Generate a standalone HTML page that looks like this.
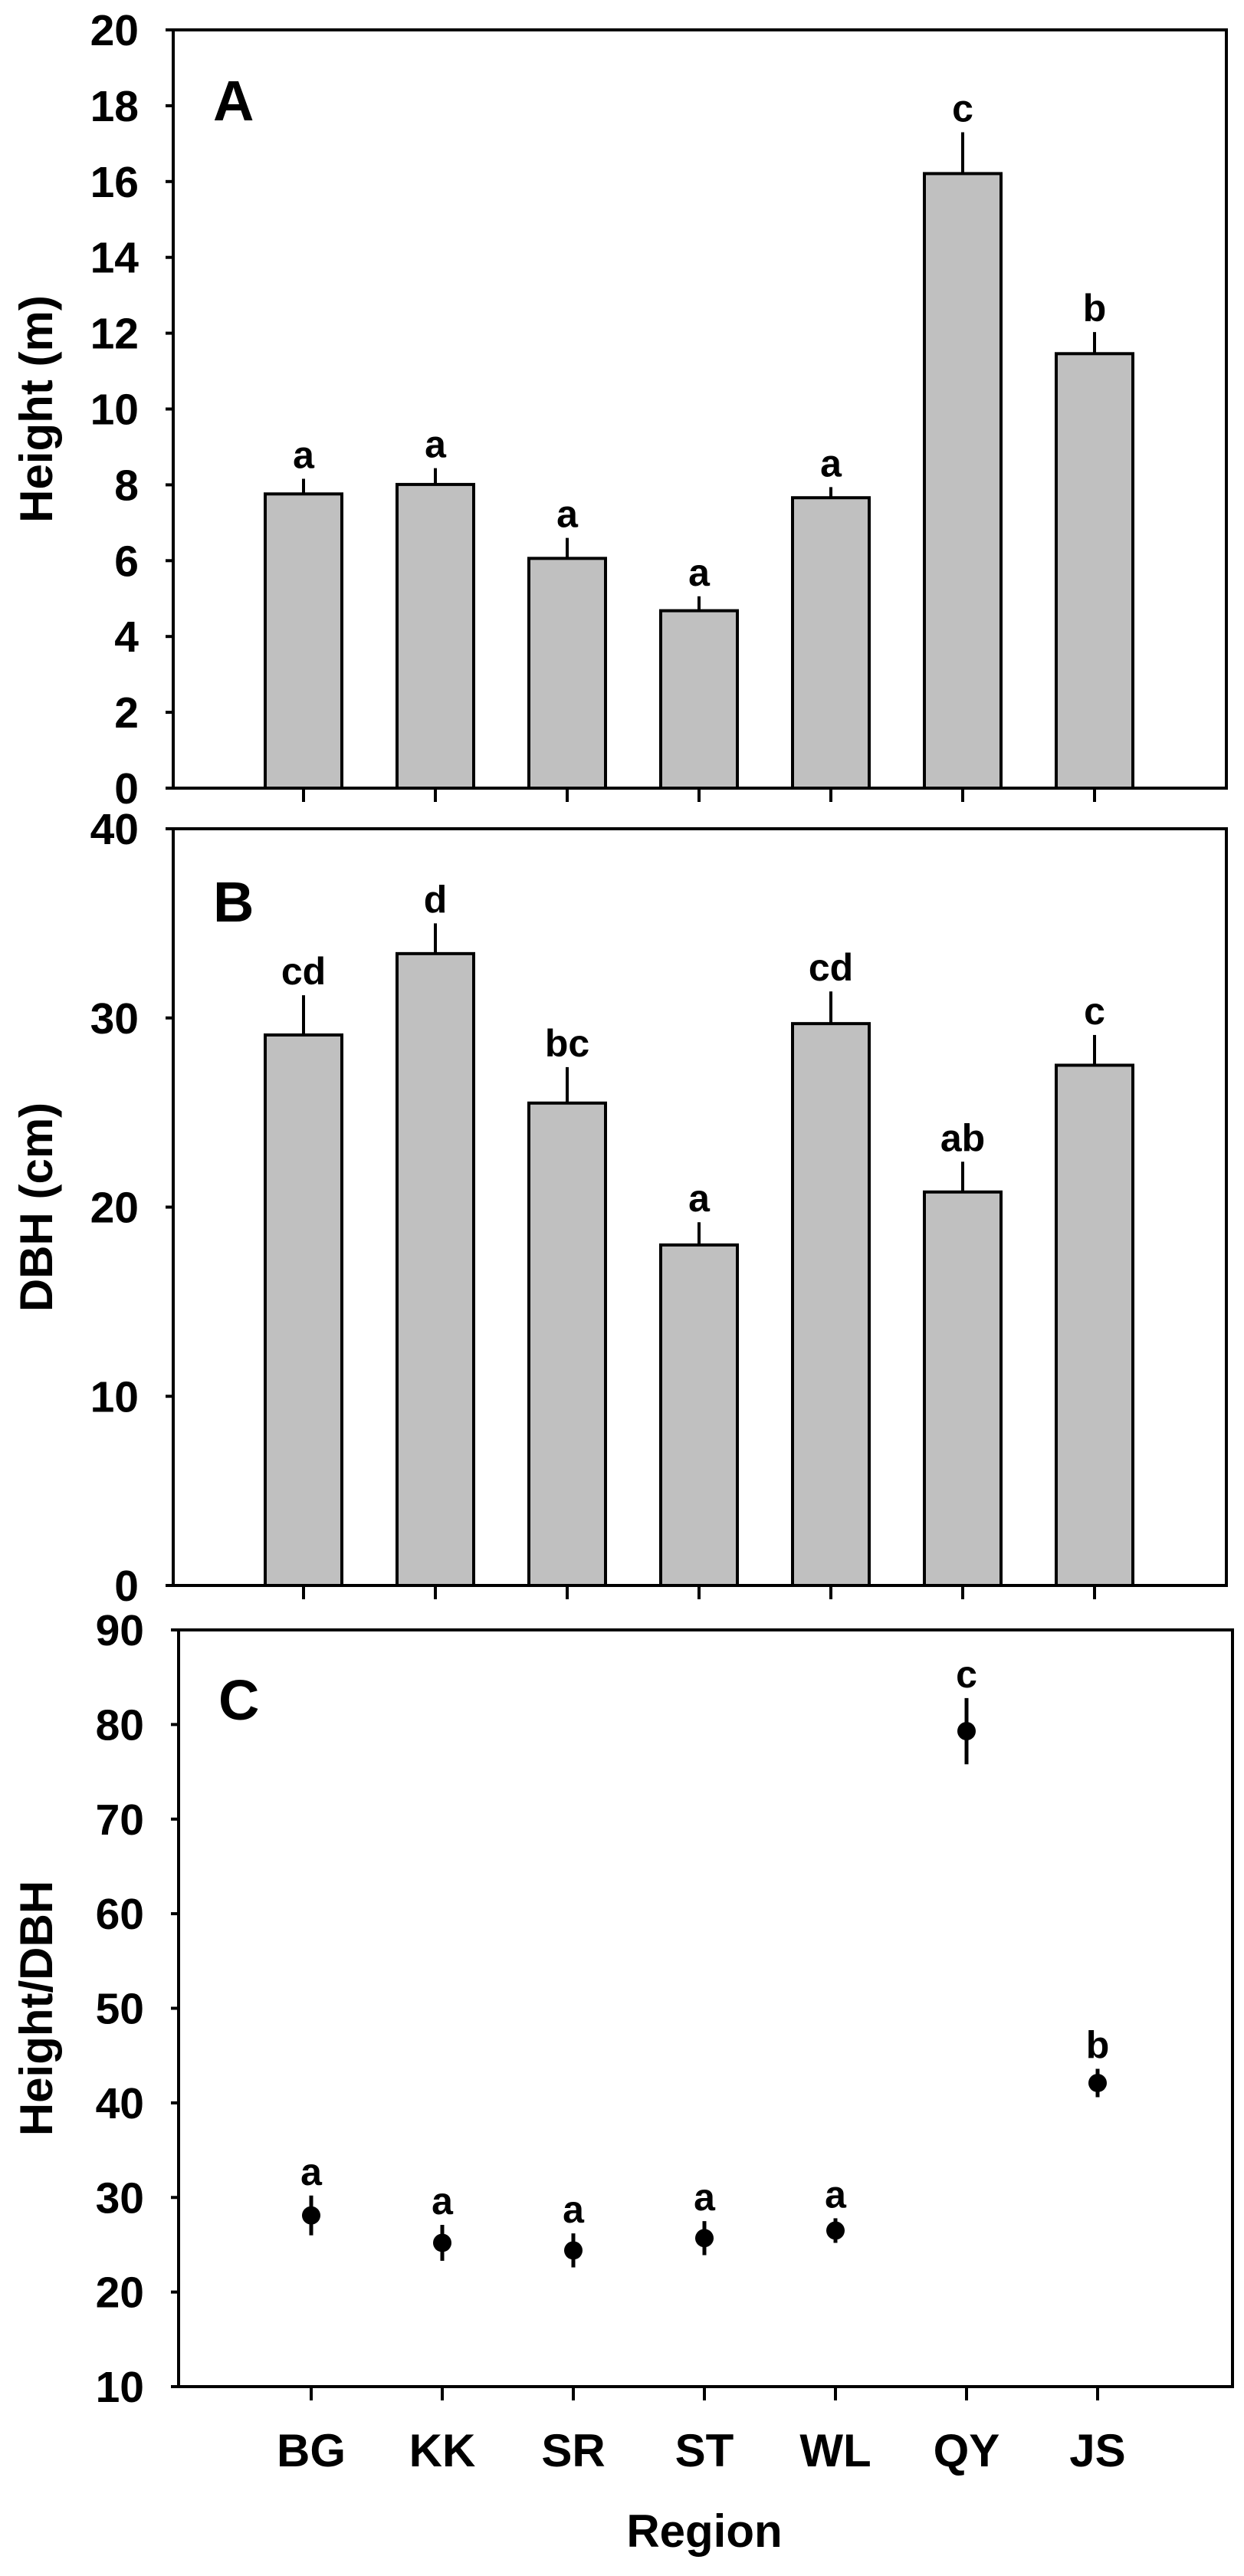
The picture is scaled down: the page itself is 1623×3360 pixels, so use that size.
<!DOCTYPE html>
<html><head><meta charset="utf-8"><style>
html,body{margin:0;padding:0;background:#fff}
svg{display:block}
text{font-family:"Liberation Sans",Arial,sans-serif;font-weight:bold;fill:#000}
</style></head><body>
<svg id="fig" width="1623" height="3360" viewBox="0 0 1623 3360" xmlns="http://www.w3.org/2000/svg"></svg>
<script>
const categories = ["BG","KK","SR","ST","WL","QY","JS"];
const heightVals = [7.76, 8.01, 6.06, 4.68, 7.66, 16.21, 11.46];
const heightErr = [0.4, 0.43, 0.54, 0.38, 0.28, 1.09, 0.57];
const heightLetters = ["a","a","a","a","a","c","b"];
const heightTicks = [0,2,4,6,8,10,12,14,16,18,20];
const dbhVals = [29.1, 33.4, 25.5, 18.0, 29.7, 20.8, 27.5];
const dbhErr = [2.1, 1.6, 1.9, 1.2, 1.7, 1.6, 1.6];
const dbhLetters = ["cd","d","bc","a","cd","ab","c"];
const dbhTicks = [0,10,20,30,40];
const ratioVals = [28.1, 25.2, 24.4, 25.7, 26.5, 79.3, 42.1];
const ratioErr = [2.1, 1.9, 1.8, 1.8, 1.3, 3.5, 1.5];
const ratioLetters = ["a","a","a","a","a","c","b"];
const ratioTicks = [10,20,30,40,50,60,70,80,90];

const NS="http://www.w3.org/2000/svg";
const svg=document.getElementById('fig');
function mk(tag,attrs,parent){const e=document.createElementNS(NS,tag);for(const k in attrs)e.setAttribute(k,attrs[k]);(parent||svg).appendChild(e);return e;}

function panel(cfg){
  const g=mk('g',{});
  
  
  const {L,R,T,B,min,max}=cfg;
  const y=v=>B-(v-min)/(max-min)*(B-T);
  const x0=cfg.x0, dx=cfg.dx;
  const x=i=>x0+i*dx;
  const fr=mk('rect',{x:L,y:T,width:R-L,height:B-T,fill:'none',stroke:'#000','stroke-width':4},g);
  
  
  cfg.ticks.forEach(t=>{
    const ln=mk('line',{x1:L-10,x2:L,y1:y(t),y2:y(t),stroke:'#000','stroke-width':4},g);
    
    
    const tx=mk('text',{x:L-45,y:y(t)+20,'text-anchor':'end','font-size':57},g);
    tx.textContent=t;
    
    
  });
  categories.forEach((c,i)=>{
    const ln=mk('line',{x1:x(i),x2:x(i),y1:B,y2:B+18,stroke:'#000','stroke-width':4},g);
    
    
  });
  cfg.vals.forEach((v,i)=>{
    const top=y(v+cfg.err[i]);
    if(cfg.type==='bar'){
      const eb=mk('line',{x1:x(i),x2:x(i),y1:y(v),y2:top,stroke:'#000','stroke-width':4},g);
      
      
      const r=mk('rect',{x:x(i)-50,y:y(v),width:100,height:B-y(v),fill:'#c0c0c0',stroke:'#000','stroke-width':4},g);
      
      
    } else {
      const eb=mk('line',{x1:x(i),x2:x(i),y1:y(v-cfg.err[i]),y2:top,stroke:'#000','stroke-width':5},g);
      
      
      const p=mk('circle',{cx:x(i),cy:y(v),r:12,fill:'#000'},g);
      
      
    }
    const lt=mk('text',{x:x(i),y:top-14,'text-anchor':'middle','font-size':50},g);
    lt.textContent=cfg.letters[i];
    
    
  });
  const pl=mk('text',{x:L+52,y:cfg.letterY,'font-size':74},g);
  pl.textContent=cfg.panel;
  
  
  const yt=mk('text',{x:0,y:0,'text-anchor':'middle','font-size':60,transform:`translate(68,${(T+B)/2}) rotate(-90)`},g);
  yt.textContent=cfg.ytitle;
  
  
}

panel({name:'panel-a-height',L:226,R:1600,T:39,B:1028,min:0,max:20,x0:396,dx:172,ticks:heightTicks,vals:heightVals,err:heightErr,letters:heightLetters,type:'bar',panel:'A',letterY:157,ytitle:'Height (m)'});
panel({name:'panel-b-dbh',L:226,R:1600,T:1081,B:2068,min:0,max:40,x0:396,dx:172,ticks:dbhTicks,vals:dbhVals,err:dbhErr,letters:dbhLetters,type:'bar',panel:'B',letterY:1202,ytitle:'DBH (cm)'});
panel({name:'panel-c-ratio',L:233,R:1608,T:2126,B:3113,min:10,max:90,x0:406,dx:171,ticks:ratioTicks,vals:ratioVals,err:ratioErr,letters:ratioLetters,type:'pt',panel:'C',letterY:2243,ytitle:'Height/DBH'});

categories.forEach((c,i)=>{
  const t=mk('text',{x:406+i*171,y:3217,'text-anchor':'middle','font-size':60});
  t.textContent=c;
  
  
});
const xt=mk('text',{x:919,y:3322,'text-anchor':'middle','font-size':60});
xt.textContent='Region';


</script>
</body></html>
